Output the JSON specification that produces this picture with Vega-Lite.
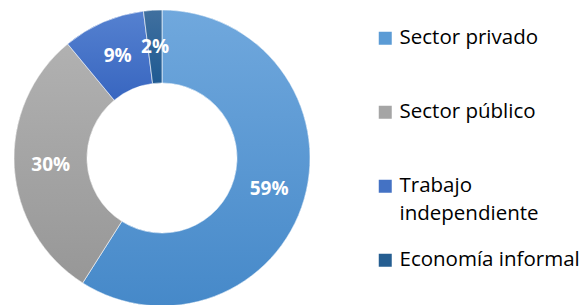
{
  "$schema": "https://vega.github.io/schema/vega-lite/v6.json",
  "width": 324,
  "height": 294,
  "autosize": {"type": "none"},
  "padding": {"top": 11, "left": 0, "right": 260, "bottom": 0},
  "background": "white",
  "config": {"view": {"stroke": null}},
  "data": {
    "values": [
      {"categoria": "Sector privado", "valor": 59, "orden": 1, "etiqueta": "59%"},
      {"categoria": "Sector público", "valor": 30, "orden": 2, "etiqueta": "30%"},
      {"categoria": "Trabajo independiente", "valor": 9, "orden": 3, "etiqueta": "9%"},
      {"categoria": "Economía informal", "valor": 2, "orden": 4, "etiqueta": "2%"}
    ]
  },
  "encoding": {
    "theta": {"field": "valor", "type": "quantitative", "stack": true},
    "order": {"field": "orden", "type": "quantitative"}
  },
  "layer": [
    {
      "mark": {"type": "arc", "outerRadius": 148, "innerRadius": 75},
      "encoding": {
        "color": {
          "field": "categoria",
          "type": "nominal",
          "scale": {
            "domain": ["Sector privado", "Sector público", "Trabajo independiente", "Economía informal"],
            "range": ["#5b9bd5", "#a5a5a5", "#4472c4", "#255e91"]
          },
          "legend": {
            "title": null,
            "orient": "none",
            "legendX": 375,
            "legendY": 17,
            "symbolType": "square",
            "symbolSize": 169,
            "symbolStrokeWidth": 0,
            "labelFont": "Open Sans",
            "labelFontSize": 20.5,
            "labelColor": "#000000",
            "labelOffset": 4,
            "rowPadding": 25,
            "labelLimit": 300,
            "labelExpr": "datum.label == 'Trabajo independiente' ? ['Trabajo', 'independiente'] : [datum.label, ' ']",
            "encode": {"labels": {"update": {"lineHeight": {"value": 28}}}}
          }
        }
      }
    },
    {
      "mark": {"type": "arc", "outerRadius": 148, "innerRadius": 75, "stroke": "white", "strokeWidth": 0.6},
      "encoding": {
        "color": {
          "condition": [
            {"test": "datum.categoria == 'Sector privado'", "value": {"gradient": "linear", "x1": 0, "y1": 0, "x2": 0, "y2": 1, "stops": [{"offset": 0, "color": "#70a8dd"}, {"offset": 1, "color": "#4689c9"}]}},
            {"test": "datum.categoria == 'Sector público'", "value": {"gradient": "linear", "x1": 0, "y1": 0, "x2": 0, "y2": 1, "stops": [{"offset": 0, "color": "#b1b1b1"}, {"offset": 1, "color": "#979797"}]}},
            {"test": "datum.categoria == 'Trabajo independiente'", "value": {"gradient": "linear", "x1": 0, "y1": 0, "x2": 0, "y2": 1, "stops": [{"offset": 0, "color": "#5581d0"}, {"offset": 1, "color": "#3866c0"}]}}
          ],
          "value": {"gradient": "linear", "x1": 0, "y1": 0, "x2": 0, "y2": 1, "stops": [{"offset": 0, "color": "#40709f"}, {"offset": 1, "color": "#1f5a92"}]}
        }
      }
    },
    {
      "mark": {"type": "text", "radius": 111.5, "font": "Open Sans", "fontSize": 19, "fontWeight": "bold", "align": "center", "baseline": "middle"},
      "encoding": {
        "text": {"field": "etiqueta", "type": "nominal"},
        "color": {"value": "white"}
      }
    }
  ]
}
